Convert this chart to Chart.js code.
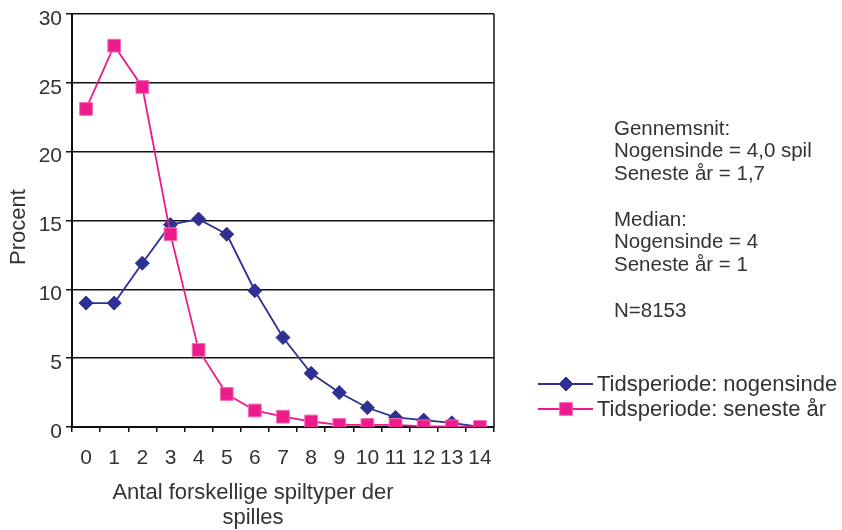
<!DOCTYPE html>
<html>
<head>
<meta charset="utf-8">
<script src="https://cdn.jsdelivr.net/npm/chart.js@4/dist/chart.umd.min.js"></script>
<style>
  html, body { margin: 0; padding: 0; background: #ffffff; }
  #wrap { width: 842px; height: 530px; }
</style>
</head>
<body>
<div id="wrap"><canvas id="c" width="842" height="530"></canvas></div>
<script>
// Number of different game types played (0-14)
const categories = ['0','1','2','3','4','5','6','7','8','9','10','11','12','13','14'];

// Share of respondents (%) per number of game types
const everValues = [9.0, 9.0, 11.9, 14.7, 15.1, 14.0, 9.9, 6.5, 3.9, 2.5, 1.4, 0.7, 0.5, 0.3, 0.0];
const lastYearValues = [23.1, 27.7, 24.7, 14.0, 5.6, 2.4, 1.2, 0.75, 0.4, 0.15, 0.15, 0.15, 0.05, 0.05, 0.0];

const seriesLabels = ['Tidsperiode: nogensinde', 'Tidsperiode: seneste år'];
const yTicks = [0, 5, 10, 15, 20, 25, 30];
const yTitle = 'Procent';
const xTitleLines = ['Antal forskellige spiltyper der', 'spilles'];
const noteLines = [
  'Gennemsnit:',
  'Nogensinde = 4,0 spil',
  'Seneste år = 1,7',
  '',
  'Median:',
  'Nogensinde = 4',
  'Seneste år = 1',
  '',
  'N=8153'
];

const FONT = '"Liberation Sans", Arial, Helvetica, sans-serif';
const TEXT = '#333333';
const BLUE = '#2E3192';
const PINK = '#EC1C8C';

function drawMarker(ctx, style, x, y, r, fill, stroke) {
  ctx.save();
  ctx.beginPath();
  if (style === 'rectRot') {
    ctx.moveTo(x - r, y);
    ctx.lineTo(x, y - r);
    ctx.lineTo(x + r, y);
    ctx.lineTo(x, y + r);
    ctx.closePath();
  } else {
    const s = Math.SQRT1_2 * r;
    ctx.rect(x - s, y - s, 2 * s, 2 * s);
  }
  ctx.fillStyle = fill;
  ctx.fill();
  if (stroke) { ctx.strokeStyle = stroke; ctx.lineWidth = 1; ctx.stroke(); }
  ctx.restore();
}

// Frame line on the right, axis titles, notes and the legend
const extras = {
  id: 'extras',
  afterDraw(chart) {
    const ctx = chart.ctx;
    const a = chart.chartArea;
    ctx.save();
    ctx.strokeStyle = '#111';
    ctx.lineWidth = 1.5;
    ctx.beginPath();
    ctx.moveTo(a.right, a.top);
    ctx.lineTo(a.right, a.bottom);
    ctx.stroke();

    ctx.fillStyle = TEXT;
    ctx.textBaseline = 'middle';

    // y title
    ctx.font = '22px ' + FONT;
    ctx.save();
    ctx.translate(19, 227);
    ctx.rotate(-Math.PI / 2);
    ctx.textAlign = 'center';
    ctx.fillText(yTitle, 0, 0);
    ctx.restore();

    // x title
    ctx.textAlign = 'center';
    xTitleLines.forEach((t, i) => ctx.fillText(t, 253, 493 + i * 25));

    // notes
    ctx.font = '20.5px ' + FONT;
    ctx.textAlign = 'left';
    noteLines.forEach((t, i) => { if (t) ctx.fillText(t, 614, 129 + i * 22.75); });

    // legend
    ctx.font = '22px ' + FONT;
    chart.data.datasets.forEach((ds, i) => {
      const y = 384 + i * 25;
      ctx.strokeStyle = ds.borderColor;
      ctx.lineWidth = 2;
      ctx.beginPath();
      ctx.moveTo(538, y);
      ctx.lineTo(593, y);
      ctx.stroke();
      drawMarker(ctx, ds.pointStyle, 566, y, ds.pointRadius, ds.pointBackgroundColor, ds.pointBorderColor);
      ctx.fillStyle = TEXT;
      ctx.fillText(ds.label, 597, y + 1);
    });
    ctx.restore();
  }
};

new Chart(document.getElementById('c'), {
  type: 'line',
  data: {
    labels: categories,
    datasets: [
      {
        label: seriesLabels[0],
        data: everValues,
        borderColor: BLUE,
        borderWidth: 1.8,
        pointStyle: 'rectRot',
        pointRadius: 7,
        pointBackgroundColor: BLUE,
        pointBorderColor: BLUE,
        pointBorderWidth: 1,
        tension: 0,
        order: 1
      },
      {
        label: seriesLabels[1],
        data: lastYearValues,
        borderColor: PINK,
        borderWidth: 1.8,
        pointStyle: 'rect',
        pointRadius: 9,
        pointBackgroundColor: PINK,
        pointBorderColor: '#F46BB6',
        pointBorderWidth: 1,
        tension: 0,
        order: 0
      }
    ]
  },
  options: {
    responsive: false,
    devicePixelRatio: 1,
    animation: false,
    layout: { padding: { top: 14, right: 348, left: 0, bottom: 0 } },
    plugins: { legend: { display: false }, tooltip: { enabled: false } },
    scales: {
      x: {
        type: 'category',
        offset: true,
        grid: { offset: true, drawOnChartArea: false, tickLength: 5, color: '#111', lineWidth: 1.5 },
        border: { color: '#111', width: 2 },
        ticks: { color: TEXT, font: { family: FONT, size: 21 }, padding: 14, maxRotation: 0, autoSkip: false },
        afterFit(scale) { scale.height = 103; scale.paddingLeft = 0; scale.paddingRight = 0; }
      },
      y: {
        min: 0,
        max: 30,
        afterBuildTicks(scale) { scale.ticks = yTicks.map(v => ({ value: v })); },
        grid: { color: '#111', lineWidth: 1.5, tickLength: 6 },
        border: { color: '#111', width: 2 },
        ticks: { color: TEXT, font: { family: FONT, size: 21 }, padding: 4, labelOffset: 5 },
        afterFit(scale) { scale.width = 72; scale.paddingTop = 0; scale.paddingBottom = 0; }
      }
    }
  },
  plugins: [extras]
});
</script>
</body>
</html>
